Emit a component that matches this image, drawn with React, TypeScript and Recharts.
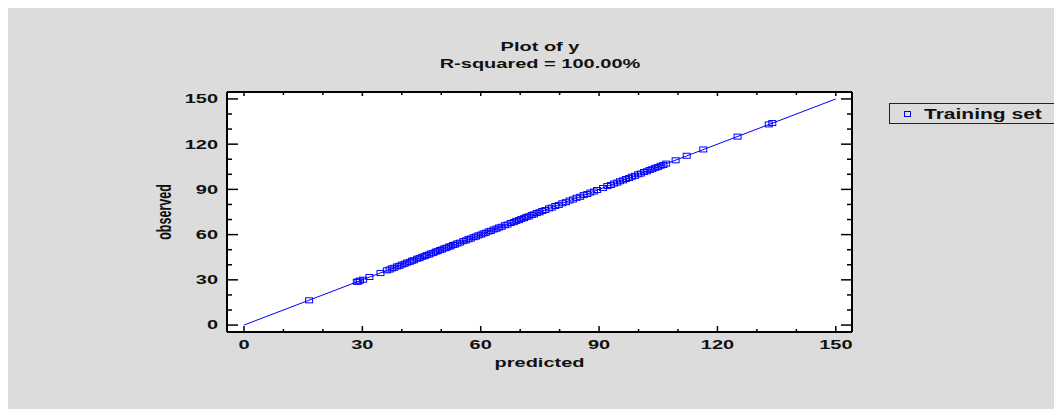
import { ComposedChart, Scatter, XAxis, YAxis, CartesianGrid, Legend, Label } from "recharts";

const predicted = [
  16.5, 28.6, 29.0, 29.4, 30.2, 31.8, 34.6, 36.2, 36.9, 37.5, 38.1, 38.8, 39.4, 40.0, 40.7, 41.3,
  42.0, 42.6, 43.1, 43.9, 44.5, 45.2, 45.8, 46.3, 46.9, 47.4, 48.0, 48.6, 49.1, 49.7, 50.2, 50.8,
  51.3, 51.9, 52.4, 53.0, 53.5, 54.1, 54.8, 55.6, 56.3, 56.9, 57.5, 58.2, 58.8, 59.4, 60.1, 60.7,
  61.3, 62.0, 62.6, 63.3, 64.0, 64.6, 65.3, 66.1, 66.8, 67.6, 68.4, 69.0, 69.7, 70.3, 71.0, 71.6,
  72.2, 72.9, 73.5, 74.2, 74.9, 75.6, 76.4, 77.3, 78.0, 78.9, 79.8, 80.7, 81.6, 82.5, 83.4, 84.3,
  85.2, 86.1, 87.0, 87.8, 88.7, 89.5, 91.0, 92.1, 93.0, 93.8, 94.6, 95.3, 96.1, 96.8, 97.6, 98.3,
  99.1, 99.9, 100.6, 101.4, 102.1, 102.8, 103.5, 104.2, 104.9, 105.6, 106.3, 107.0, 109.4, 112.2,
  116.4, 125.1, 133.0, 133.9,
];
const observed = [
  16.4, 28.7, 28.9, 29.5, 30.1, 31.9, 34.5, 36.3, 36.8, 37.6, 38.0, 38.9, 39.3, 40.1, 40.6, 41.4,
  41.9, 42.7, 43.0, 44.0, 44.4, 45.3, 45.7, 46.4, 46.8, 47.5, 47.9, 48.7, 49.0, 49.8, 50.1, 50.9,
  51.2, 52.0, 52.3, 53.1, 53.4, 54.2, 54.7, 55.7, 56.2, 57.0, 57.4, 58.3, 58.7, 59.5, 60.0, 60.8,
  61.2, 62.1, 62.5, 63.4, 63.9, 64.7, 65.2, 66.2, 66.7, 67.7, 68.3, 69.1, 69.6, 70.4, 70.9, 71.7,
  72.1, 73.0, 73.4, 74.3, 74.8, 75.7, 76.3, 77.4, 77.9, 79.0, 79.7, 80.8, 81.5, 82.6, 83.3, 84.4,
  85.1, 86.2, 86.9, 87.9, 88.6, 89.6, 90.9, 92.2, 92.9, 93.9, 94.5, 95.4, 96.0, 96.9, 97.5, 98.4,
  99.0, 100.0, 100.5, 101.5, 102.0, 102.9, 103.4, 104.3, 104.8, 105.7, 106.2, 107.1, 109.3, 112.3,
  116.5, 125.0, 133.1, 134.0,
];
const fitX = [0, 150];
const fitY = [0, 150];
const tickValues = [0, 10, 20, 30, 40, 50, 60, 70, 80, 90, 100, 110, 120, 130, 140, 150];
const labelValues = [0, 30, 60, 90, 120, 150];
const xDomain = [-4.3, 154.1];
const yDomain = [-4.6, 154.6];

const points = predicted.map((x, i) => ({ x, y: observed[i] }));
const fitLine = fitX.map((x, i) => ({ x, y: fitY[i] }));

const BLUE = "#0000ff";
const FONT = '"Liberation Sans", Arial, sans-serif';
const SX = 1.6; // the source text is drawn stretched sideways

const isMajor = (v: number) => labelValues.includes(v);

function BottomTick({ x, y, payload }: any) {
  const v = payload.value;
  return (
    <g>
      <line x1={x} y1={y} x2={x} y2={y - (isMajor(v) ? 6 : 3)} stroke="#000" strokeWidth={1.5} />
      {isMajor(v) && (
        <text transform={`translate(${x},${y + 13}) scale(${SX},1)`} textAnchor="middle" dy="0.35em"
          fontFamily={FONT} fontWeight="bold" fontSize={12.5} fill="#111">
          {v}
        </text>
      )}
    </g>
  );
}

function TopTick({ x, y, payload }: any) {
  return <line x1={x} y1={y} x2={x} y2={y + (isMajor(payload.value) ? 4 : 3)} stroke="#000" strokeWidth={1.5} />;
}

function LeftTick({ x, y, payload }: any) {
  const v = payload.value;
  return (
    <g>
      <line x1={x} y1={y} x2={x + (isMajor(v) ? 11 : 5)} y2={y} stroke="#000" strokeWidth={1.5} />
      {isMajor(v) && (
        <text transform={`translate(${x - 9},${y}) scale(${SX},1)`} textAnchor="end" dy="0.35em"
          fontFamily={FONT} fontWeight="bold" fontSize={12.5} fill="#111">
          {v}
        </text>
      )}
    </g>
  );
}

function RightTick({ x, y, payload }: any) {
  return <line x1={x} y1={y} x2={x - (isMajor(payload.value) ? 11 : 5)} y2={y} stroke="#000" strokeWidth={1.5} />;
}

function XTitle({ viewBox }: any) {
  const cx = viewBox.x + viewBox.width / 2;
  return (
    <text transform={`translate(${cx},${viewBox.y + 35}) scale(${SX},1)`} textAnchor="middle"
      fontFamily={FONT} fontWeight="bold" fontSize={12.5} fill="#111">
      predicted
    </text>
  );
}

function YTitle({ viewBox }: any) {
  const cy = viewBox.y + viewBox.height / 2;
  return (
    <text transform={`translate(${viewBox.x + 4},${cy}) scale(${SX},1) rotate(-90)`} textAnchor="middle"
      fontFamily={FONT} fontWeight="bold" fontSize={12.5} fill="#111">
      observed
    </text>
  );
}

function Square({ cx, cy }: any) {
  return <rect x={cx - 3.5} y={cy - 2.5} width={7} height={5} fill="none" stroke={BLUE} strokeWidth={1} />;
}

function LegendBox() {
  return (
    <div style={{ width: 165, height: 19, border: "1.5px solid #222", position: "relative", fontFamily: FONT }}>
      <div style={{ position: "absolute", left: 14, top: 7, width: 5, height: 4, border: `1px solid ${BLUE}` }} />
      <div style={{ position: "absolute", left: 34, top: 0, lineHeight: "20px", fontSize: 14, fontWeight: "bold",
        color: "#111", transform: "scaleX(1.5)", transformOrigin: "left center", whiteSpace: "nowrap" }}>
        Training set
      </div>
    </div>
  );
}

export default function App() {
  return (
    <div style={{ position: "relative", width: 1054, height: 401, background: "#dcdcdc" }}>
      <div style={{ position: "absolute", left: 219, top: 31, width: 626, textAlign: "center", fontFamily: FONT,
        fontWeight: "bold", fontSize: 12.5, lineHeight: "17px", color: "#111" }}>
        <div style={{ transform: `scaleX(${SX})` }}>Plot of y</div>
        <div style={{ transform: `scaleX(${SX})` }}>R-squared = 100.00%</div>
      </div>
      <ComposedChart width={1054} height={401} margin={{ top: 74, right: 200, bottom: 37, left: 159 }}>
        <CartesianGrid fill="#fff" horizontal={false} vertical={false} />
        <XAxis xAxisId="b" dataKey="x" type="number" domain={xDomain} ticks={tickValues} allowDataOverflow
          interval={0} height={40} tickSize={0} tickMargin={0} tickLine={false}
          axisLine={{ stroke: "#000", strokeWidth: 2 }} tick={(p: any) => <BottomTick {...p} />}>
          <Label content={(p: any) => <XTitle {...p} />} />
        </XAxis>
        <XAxis xAxisId="t" orientation="top" dataKey="x" type="number" domain={xDomain} ticks={tickValues}
          allowDataOverflow interval={0} height={10} tickSize={0} tickMargin={0} tickLine={false}
          axisLine={{ stroke: "#000", strokeWidth: 2 }} tick={(p: any) => <TopTick {...p} />} />
        <YAxis yAxisId="l" dataKey="y" type="number" domain={yDomain} ticks={tickValues} allowDataOverflow
          interval={0} width={60} tickSize={0} tickMargin={0} tickLine={false}
          axisLine={{ stroke: "#000", strokeWidth: 2 }} tick={(p: any) => <LeftTick {...p} />}>
          <Label content={(p: any) => <YTitle {...p} />} />
        </YAxis>
        <YAxis yAxisId="r" orientation="right" dataKey="y" type="number" domain={yDomain} ticks={tickValues}
          allowDataOverflow interval={0} width={10} tickSize={0} tickMargin={0} tickLine={false}
          axisLine={{ stroke: "#000", strokeWidth: 2 }} tick={(p: any) => <RightTick {...p} />} />
        <Legend layout="vertical" align="center" verticalAlign="middle" content={() => <LegendBox />}
          wrapperStyle={{ left: 881, top: 95, width: 170, height: 22 }} />
        <Scatter xAxisId="t" yAxisId="r" data={fitLine} line={{ stroke: BLUE, strokeWidth: 1 }}
          shape={() => <g />} legendType="none" isAnimationActive={false} />
        <Scatter xAxisId="b" yAxisId="l" name="Training set" data={points} shape={(p: any) => <Square {...p} />}
          isAnimationActive={false} />
      </ComposedChart>
    </div>
  );
}
